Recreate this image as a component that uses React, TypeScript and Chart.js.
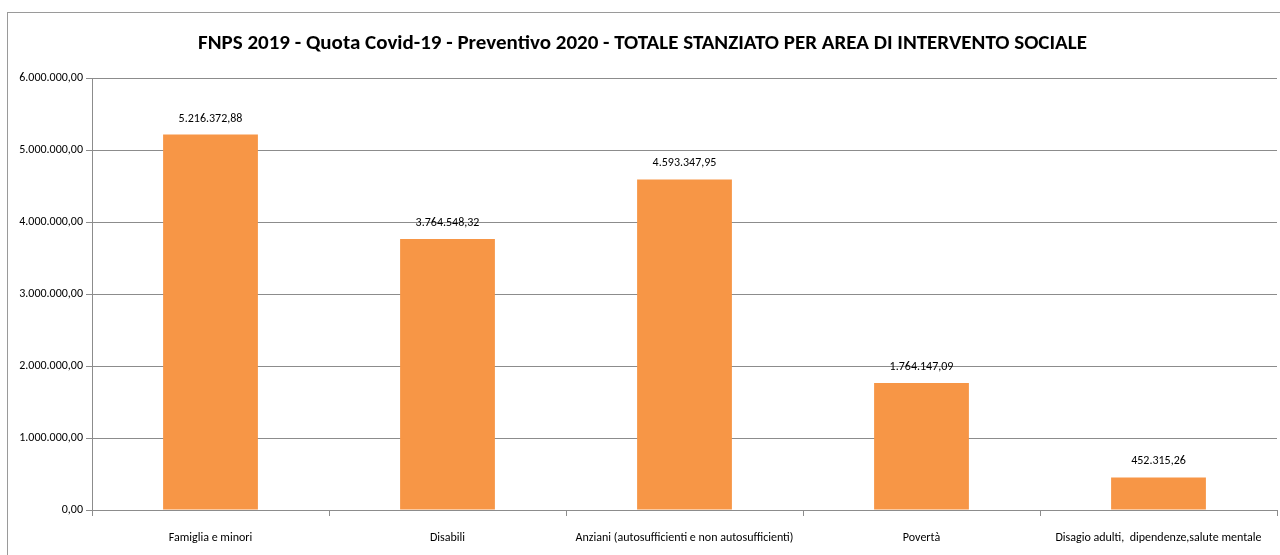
import React, { useEffect, useRef } from "react";
import { Chart, registerables } from "chart.js";

Chart.register(...registerables);

const categories = [
  "Famiglia e minori",
  "Disabili",
  "Anziani (autosufficienti e non autosufficienti)",
  "Povertà",
  "Disagio adulti,  dipendenze,salute mentale",
];
const values = [5216372.88, 3764548.32, 4593347.95, 1764147.09, 452315.26];
const titleText =
  "FNPS 2019 - Quota Covid-19 - Preventivo 2020 - TOTALE STANZIATO PER AREA DI INTERVENTO SOCIALE";
const yMax = 6000000;
const yStep = 1000000;

const FONT = "Carlito, 'Liberation Sans Narrow', 'DejaVu Sans Condensed', 'Noto Sans', sans-serif";

function fmtIt(v: number): string {
  const fixed = v.toFixed(2);
  const [intPart, dec] = fixed.split(".");
  const withDots = intPart.replace(/\B(?=(\d{3})+(?!\d))/g, ".");
  return withDots + "," + dec;
}

const valueLabels = {
  id: "valueLabels",
  afterDatasetsDraw(chart: any) {
    const ctx = chart.ctx;
    const meta = chart.getDatasetMeta(0);
    ctx.save();
    ctx.font = `12px ${FONT}`;
    ctx.fillStyle = "#000";
    ctx.textAlign = "center";
    ctx.textBaseline = "middle";
    meta.data.forEach((bar: any, i: number) => {
      ctx.fillText(fmtIt(values[i]), bar.x, bar.y - 16);
    });
    ctx.restore();
  },
};

export default function App() {
  const ref = useRef<HTMLCanvasElement | null>(null);
  useEffect(() => {
    if (!ref.current) return;
    const chart = new Chart(ref.current, {
      type: "bar",
      data: {
        labels: categories,
        datasets: [
          {
            data: values,
            backgroundColor: "#F79646",
            borderWidth: 0,
            categoryPercentage: 0.8,
            barPercentage: 0.5,
          },
        ],
      },
      options: {
        animation: false,
        responsive: false,
        devicePixelRatio: 1,
        layout: { padding: { left: 8, right: 3, top: 0, bottom: 0 } },
        plugins: {
          legend: { display: false },
          tooltip: { enabled: false },
          title: {
            display: true,
            text: titleText,
            color: "#000",
            font: { family: FONT, size: 21, weight: "bold" },
            padding: { top: 31, bottom: 22 },
          },
        },
        scales: {
          x: {
            grid: {
              offset: true,
              drawOnChartArea: false,
              drawTicks: true,
              tickLength: 6,
              color: "#8c8c8c",
            },
            border: { color: "#8c8c8c", width: 1 },
            ticks: {
              color: "#000",
              font: { family: FONT, size: 12 },
              padding: 15,
              maxRotation: 0,
              autoSkip: false,
            },
            afterFit(scale: any) {
              scale.height = 45;
            },
          },
          y: {
            min: 0,
            max: yMax,
            ticks: {
              stepSize: yStep,
              color: "#000",
              font: { family: FONT, size: 12 },
              padding: 3,
              callback: (v: any) => fmtIt(Number(v)),
            },
            grid: { color: "#8c8c8c", tickLength: 6 },
            border: { color: "#8c8c8c", width: 1 },
            afterFit(scale: any) {
              scale.width = 84;
            },
          },
        },
      },
      plugins: [valueLabels],
    });
    return () => chart.destroy();
  }, []);
  return (
    <div
      style={{
        position: "fixed",
        left: 0,
        top: 0,
        width: 1280,
        height: 555,
        background: "#fff",
        overflow: "hidden",
      }}
    >
      <div
        style={{
          position: "absolute",
          left: 7,
          top: 12,
          width: 1300,
          height: 600,
          borderLeft: "1px solid #9a9a9a",
          borderTop: "1px solid #9a9a9a",
        }}
      />
      <canvas
        ref={ref}
        width={1280}
        height={555}
        style={{ position: "absolute", left: 0, top: 0, width: 1280, height: 555 }}
      />
    </div>
  );
}
